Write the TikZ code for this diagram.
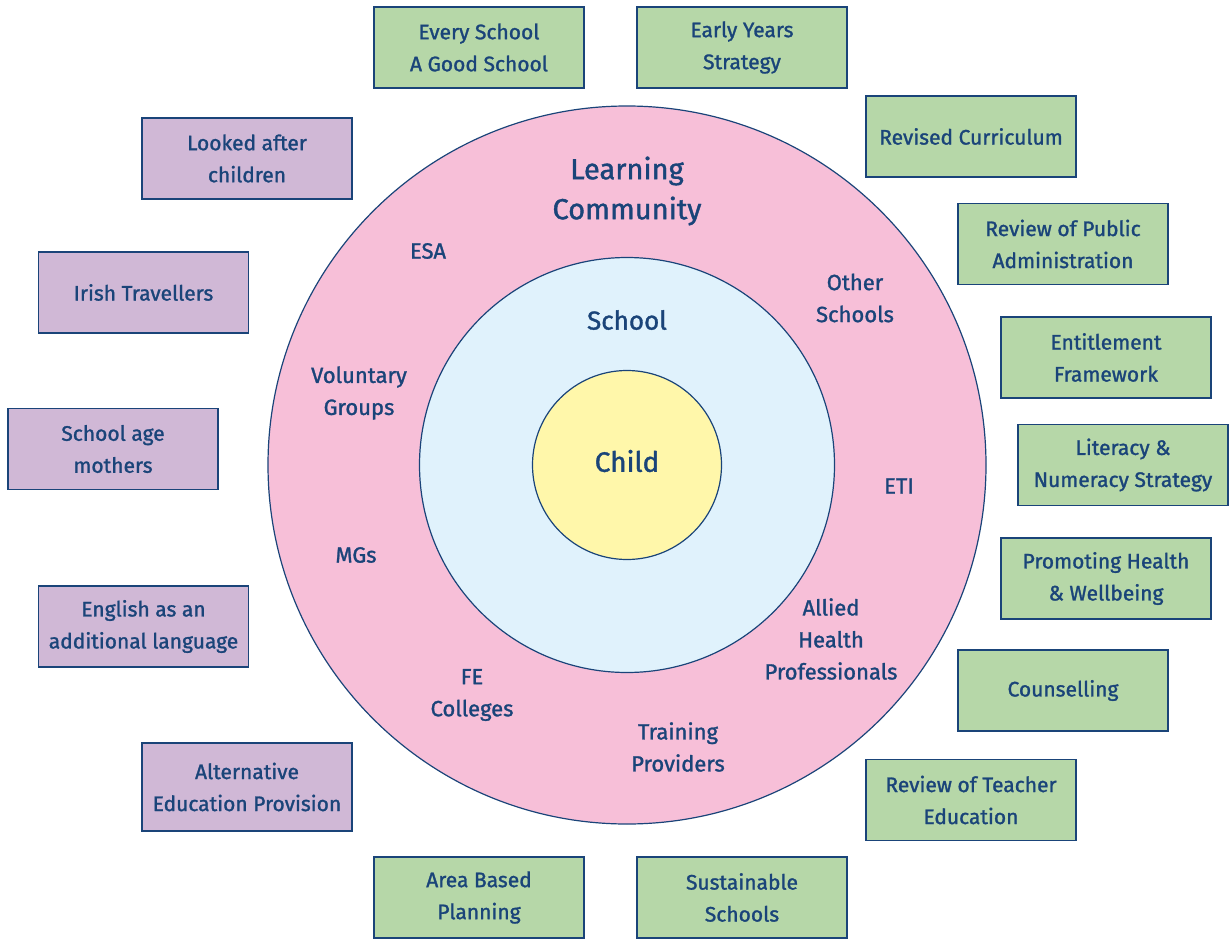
\documentclass[tikz,border=0pt]{standalone}
\usepackage{fontspec}
\setmainfont{Fira Sans}[UprightFeatures={FakeBold=1.3}]
\definecolor{txt}{HTML}{1A4479}
\definecolor{gfill}{HTML}{B6D7A8}
\definecolor{pfill}{HTML}{D0B8D6}
\definecolor{pinkc}{HTML}{F7BFD8}
\definecolor{bluec}{HTML}{E0F2FC}
\definecolor{yelc}{HTML}{FFF7AA}
\begin{document}
\begin{tikzpicture}[x=1pt,y=-1pt,
  box/.style={draw=txt,line width=1.2pt,minimum width=210pt,minimum height=81pt,align=center,text=txt,font=\fontsize{21}{32}\selectfont,inner sep=0pt},
  gbox/.style={box,fill=gfill},
  pbox/.style={box,fill=pfill},
  ring/.style={circle,draw=txt,line width=1.2pt,inner sep=0pt},
  lab/.style={align=center,text=txt,font=\fontsize{22}{32}\selectfont,inner sep=0pt}]
\useasboundingbox (0,0) rectangle (1229,939);
\node[ring,fill=pinkc,minimum size=718pt] (lc) at (627,465) {};
\node[ring,fill=bluec,minimum size=415pt] (sc) at (627,465) {};
\node[ring,fill=yelc,minimum size=189pt] (ch) at (627,465) {};
\node[lab,font=\fontsize{29}{40}\selectfont] (lct) at (627,191) {Learning\\Community};
\node[lab,font=\fontsize{26}{32}\selectfont] (sct) at (627,320) {School};
\node[lab,font=\fontsize{28}{32}\selectfont] (cht) at (627,461) {Child};
\node[lab] (esa) at (428,251) {ESA};
\node[lab] (os) at (855,298) {Other\\Schools};
\node[lab] (vg) at (359,393) {Voluntary\\Groups};
\node[lab] (eti) at (899,486) {ETI};
\node[lab] (mg) at (356,555) {MGs};
\node[lab] (ahp) at (831,639) {Allied\\Health\\Professionals};
\node[lab] (fe) at (472,695) {FE\\Colleges};
\node[lab] (tp) at (678,747) {Training\\Providers};
% green boxes
\node[gbox] (b1) at (479,47.5) {Every School\\A Good School};
\node[gbox] (b2) at (742,47.5) {Early Years\\Strategy};
\node[gbox] (b3) at (971,136.5) {Revised Curriculum};
\node[gbox] (b4) at (1063,244) {Review of Public\\Administration};
\node[gbox] (b5) at (1106,357.5) {Entitlement\\Framework};
\node[gbox] (b6) at (1123,465) {Literacy \&\\Numeracy Strategy};
\node[gbox] (b7) at (1106,578.5) {Promoting Health\\\& Wellbeing};
\node[gbox] (b8) at (1063,690.5) {Counselling};
\node[gbox] (b9) at (971,800) {Review of Teacher\\Education};
\node[gbox] (b10) at (479,897.5) {Area Based\\Planning};
\node[gbox] (b11) at (742,897.5) {Sustainable\\Schools};
% purple boxes
\node[pbox] (p1) at (247,158.5) {Looked after\\children};
\node[pbox] (p2) at (143.5,292.5) {Irish Travellers};
\node[pbox] (p3) at (113,449) {School age\\mothers};
\node[pbox] (p4) at (143.5,626.5) {English as an\\additional language};
\node[pbox,minimum height=88pt] (p5) at (247,787) {Alternative\\Education Provision};
\end{tikzpicture}
\end{document}
